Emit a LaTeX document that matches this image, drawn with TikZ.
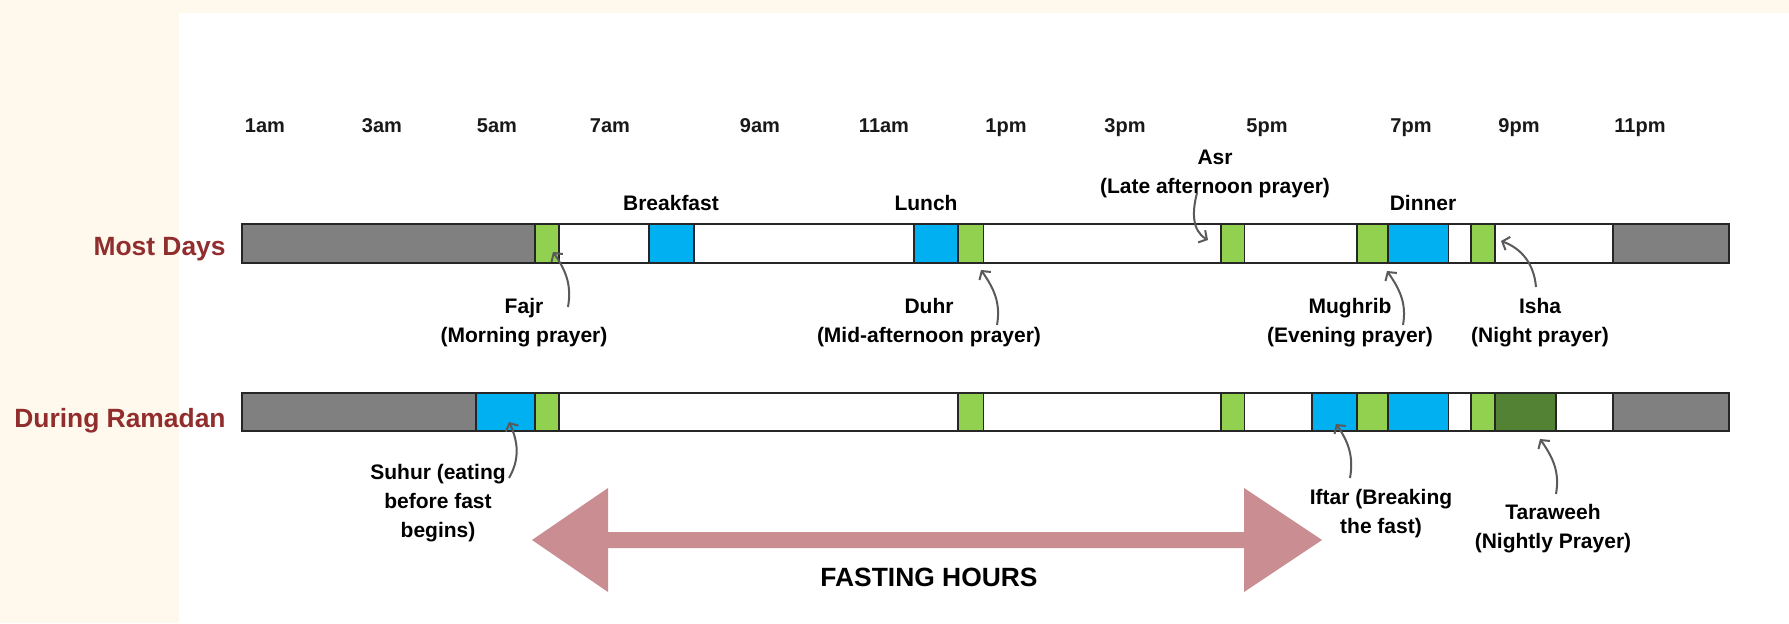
\documentclass[tikz,border=0pt]{standalone}
\usepackage{fontspec}
\setmainfont{Liberation Sans}
\usetikzlibrary{arrows.meta}
\definecolor{cream}{HTML}{FFF9ED}
\definecolor{sleepgray}{HTML}{808080}
\definecolor{prayergreen}{HTML}{92D050}
\definecolor{mealblue}{HTML}{00B0F0}
\definecolor{nightgreen}{HTML}{548235}
\definecolor{titlered}{HTML}{912D2D}
\definecolor{fastpink}{HTML}{C98D92}
\definecolor{pointergray}{HTML}{5A5A5A}
\tikzset{
	seg/.style={draw=black!85, line width=0.8pt},
	sleep/.style={seg, fill=sleepgray},
	prayer/.style={seg, fill=prayergreen},
	meal/.style={seg, fill=mealblue},
	tarawih/.style={seg, fill=nightgreen},
	hour/.style={font=\bfseries\fontsize{10}{12}\selectfont, text=black!90, anchor=base, inner sep=0pt},
	lbl/.style={font=\bfseries\fontsize{10.5}{14.3}\selectfont, align=center, anchor=base, inner sep=0pt},
	rowtitle/.style={font=\bfseries\fontsize{13.2}{16}\selectfont, text=titlered, anchor=base east, inner sep=0pt},
	pointer/.style={draw=pointergray, line width=1pt, -{Straight Barb[length=3pt,width=7pt]}}
}
\begin{document}
\begin{tikzpicture}[x=0.5pt, y=0.5pt]
	\def \mtop{399}
	\def \mbot{360}
	\def \rtop{230}
	\def \rbot{192}
	\useasboundingbox (0,0) rectangle (1789,623);
	\fill[cream] (0,0) rectangle (1789,623);
	\fill[white] (179,0) rectangle (1789,610);
	% hours
	\node[hour] (h1am) at (265,491) {1am};
	\node[hour] (h3am) at (382,491) {3am};
	\node[hour] (h5am) at (497,491) {5am};
	\node[hour] (h7am) at (610,491) {7am};
	\node[hour] (h9am) at (760,491) {9am};
	\node[hour] (h11am) at (884,491) {11am};
	\node[hour] (h1pm) at (1006,491) {1pm};
	\node[hour] (h3pm) at (1125,491) {3pm};
	\node[hour] (h5pm) at (1267,491) {5pm};
	\node[hour] (h7pm) at (1411,491) {7pm};
	\node[hour] (h9pm) at (1519,491) {9pm};
	\node[hour] (h11pm) at (1640,491) {11pm};
	% most days
	\node[rowtitle] (mostdays) at (226,368) {Most Days};
	\draw[seg, fill=white] (242,\mbot) rectangle (1729,\mtop);
	\draw[sleep] (242,\mbot) rectangle (535,\mtop);
	\draw[prayer] (535,\mbot) rectangle (559,\mtop);
	\draw[meal] (649,\mbot) rectangle (694,\mtop);
	\draw[meal] (914,\mbot) rectangle (958,\mtop);
	\draw[prayer] (958,\mbot) rectangle (983.5,\mtop);
	\draw[prayer] (1221,\mbot) rectangle (1244.5,\mtop);
	\draw[prayer] (1357,\mbot) rectangle (1388,\mtop);
	\draw[meal] (1388,\mbot) rectangle (1448.5,\mtop);
	\draw[prayer] (1471,\mbot) rectangle (1495,\mtop);
	\draw[sleep] (1613,\mbot) rectangle (1729,\mtop);
	% during ramadan
	\node[rowtitle] (ramadan) at (226,196) {During Ramadan};
	\draw[seg, fill=white] (242,\rbot) rectangle (1729,\rtop);
	\draw[sleep] (242,\rbot) rectangle (476,\rtop);
	\draw[meal] (476,\rbot) rectangle (535,\rtop);
	\draw[prayer] (535,\rbot) rectangle (559,\rtop);
	\draw[prayer] (958,\rbot) rectangle (983.5,\rtop);
	\draw[prayer] (1221,\rbot) rectangle (1244.5,\rtop);
	\draw[meal] (1312,\rbot) rectangle (1357,\rtop);
	\draw[prayer] (1357,\rbot) rectangle (1388,\rtop);
	\draw[meal] (1388,\rbot) rectangle (1448.5,\rtop);
	\draw[prayer] (1471,\rbot) rectangle (1495,\rtop);
	\draw[tarawih] (1495,\rbot) rectangle (1556,\rtop);
	\draw[sleep] (1613,\rbot) rectangle (1729,\rtop);
	% labels (base = last line)
	\node[lbl] (breakfast) at (671,413) {Breakfast};
	\node[lbl] (lunch) at (926,413) {Lunch};
	\node[lbl] (dinner) at (1423,413) {Dinner};
	\node[lbl] (asr) at (1215,430) {Asr\\(Late afternoon prayer)};
	\node[lbl] (fajr) at (524,281) {Fajr\\(Morning prayer)};
	\node[lbl] (duhr) at (929,281) {Duhr\\(Mid-afternoon prayer)};
	\node[lbl] (mughrib) at (1350,281) {Mughrib\\(Evening prayer)};
	\node[lbl] (isha) at (1540,281) {Isha\\(Night prayer)};
	\node[lbl] (suhur) at (438,86) {Suhur (eating\\before fast\\begins)};
	\node[lbl] (iftar) at (1381,90) {Iftar (Breaking\\the fast)};
	\node[lbl] (taraweeh) at (1553,75) {Taraweeh\\(Nightly Prayer)};
	% pointers
	\coordinate (fajrtail) at (568,316);
	\coordinate (fajrtip) at (553,371);
	\coordinate (duhrtail) at (997,298);
	\coordinate (duhrtip) at (981,353);
	\coordinate (mughribtail) at (1403,298);
	\coordinate (mughribtip) at (1387,352);
	\coordinate (ishatail) at (1536,336);
	\coordinate (ishatip) at (1501,382);
	\coordinate (asrtail) at (1197,430);
	\coordinate (asrtip) at (1208,383);
	\coordinate (suhurtail) at (509,145);
	\coordinate (suhurtip) at (509,201);
	\coordinate (iftartail) at (1350,145);
	\coordinate (iftartip) at (1336,199);
	\coordinate (taraweehtail) at (1556,129);
	\coordinate (taraweehtip) at (1540,184);
	\draw[pointer] (fajrtail) to[out=80, in=-55] (fajrtip);
	\draw[pointer] (duhrtail) to[out=80, in=-55] (duhrtip);
	\draw[pointer] (mughribtail) to[out=80, in=-55] (mughribtip);
	\draw[pointer] (ishatail) to[out=95, in=-20] (ishatip);
	\draw[pointer] (asrtail) to[out=-105, in=150] (asrtip);
	\draw[pointer] (suhurtail) to[out=60, in=-65] (suhurtip);
	\draw[pointer] (iftartail) to[out=80, in=-55] (iftartip);
	\draw[pointer] (taraweehtail) to[out=80, in=-55] (taraweehtip);
	% fasting hours
	\fill[fastpink] (532,83) -- (608,135) -- (608,91) -- (1244,91) -- (1244,135) -- (1322,83)
		-- (1244,31) -- (1244,75) -- (608,75) -- (608,31) -- cycle;
	\node[lbl, font=\bfseries\fontsize{13.2}{16}\selectfont] (fasting) at (929,37) {FASTING HOURS};
\end{tikzpicture}
\end{document}
